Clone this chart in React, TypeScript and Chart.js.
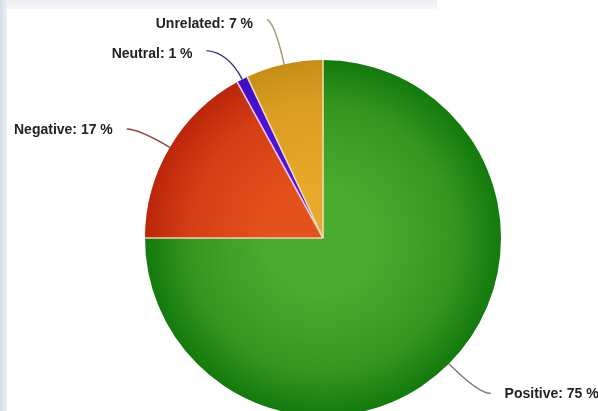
import React, { useEffect, useRef } from "react";
import { Chart, registerables } from "chart.js";

Chart.register(...registerables);

const categories = ["Positive", "Negative", "Neutral", "Unrelated"];
const values = [75, 17, 1, 7];

const innerColors = ["#4aab2f", "#e4521c", "#5214e0", "#e6a92a"];
const midColors = ["#36951f", "#d43e14", "#4a10d4", "#dc9e22"];
const outerColors = ["#137a0d", "#bb260b", "#3f0cc0", "#c68e18"];
const separatorColors = ["#f2dcae", "#f2d2b0", "#f0c8e6", "#f2dcae"];
const lineColors = ["#6f7f6f", "#8a4a3a", "#2f2f86", "#a3936a"];

const W = 598;
const H = 430;

const bgPlugin = {
  id: "bg",
  beforeDraw(chart: any) {
    const c = chart.ctx;
    c.save();
    c.fillStyle = "#ffffff";
    c.fillRect(0, 0, chart.width, chart.height);
    const g = c.createLinearGradient(0, 0, 8, 0);
    g.addColorStop(0, "#d6dde8");
    g.addColorStop(1, "#eef1f6");
    c.fillStyle = g;
    c.fillRect(0, 0, 7, chart.height);
    const g2 = c.createLinearGradient(0, 0, 0, 10);
    g2.addColorStop(0, "#eceef3");
    g2.addColorStop(1, "#f7f8fa");
    c.fillStyle = g2;
    c.fillRect(7, 0, 430, 9);
    c.restore();
  },
};

const separatorPlugin = {
  id: "separators",
  afterDatasetsDraw(chart: any) {
    const c = chart.ctx;
    const meta = chart.getDatasetMeta(0);
    meta.data.forEach((arc: any, i: number) => {
      const p = arc.getProps(["x", "y", "startAngle", "outerRadius"], true);
      c.save();
      c.strokeStyle = separatorColors[i];
      c.lineWidth = 1.6;
      c.beginPath();
      c.moveTo(p.x, p.y);
      c.lineTo(p.x + Math.cos(p.startAngle) * p.outerRadius, p.y + Math.sin(p.startAngle) * p.outerRadius);
      c.stroke();
      c.restore();
    });
  },
};

const leaderPlugin = {
  id: "leaders",
  afterDatasetsDraw(chart: any, _args: any, opts: any) {
    const c = chart.ctx;
    const meta = chart.getDatasetMeta(0);
    meta.data.forEach((arc: any, i: number) => {
      const p = arc.getProps(["x", "y", "startAngle", "endAngle", "outerRadius"], true);
      const mid = (p.startAngle + p.endAngle) / 2;
      const ux = Math.cos(mid);
      const uy = Math.sin(mid);
      const r = p.outerRadius;
      const ext = opts.ext[i];
      const hook = opts.hook[i];
      const side = ux >= 0 ? 1 : -1;
      const x0 = p.x + ux * r;
      const y0 = p.y + uy * r;
      const x1 = p.x + ux * (r + ext);
      const y1 = p.y + uy * (r + ext);
      const x2 = x1 + side * hook;
      const y2 = y1 + opts.rise[i];
      c.save();
      c.strokeStyle = lineColors[i];
      c.lineWidth = 1.4;
      c.beginPath();
      c.moveTo(x0, y0);
      c.quadraticCurveTo(x1, y1, x2, y2);
      c.stroke();
      c.fillStyle = "#222222";
      c.font = "bold 14px 'Liberation Sans', Arial, sans-serif";
      c.textBaseline = "middle";
      c.textAlign = side > 0 ? "left" : "right";
      c.fillText(`${categories[i]}: ${values[i]} %`, x2 + side * opts.gap, y1 + 1);
      c.restore();
    });
  },
};

export default function App() {
  const ref = useRef<HTMLCanvasElement | null>(null);
  useEffect(() => {
    if (!ref.current) return;
    const chart = new Chart(ref.current, {
      type: "pie",
      data: {
        labels: categories,
        datasets: [
          {
            data: values,
            backgroundColor: (ctx: any) => {
              const ch = ctx.chart;
              const area = ch.chartArea;
              const i = ctx.dataIndex;
              if (!area || i === undefined) return innerColors[i ?? 0];
              const cx = (area.left + area.right) / 2;
              const cy = (area.top + area.bottom) / 2;
              const r = Math.min(area.right - area.left, area.bottom - area.top) / 2;
              const g = ch.ctx.createRadialGradient(cx - r * 0.02, cy + r * 0.02, 0, cx, cy, r);
              g.addColorStop(0, innerColors[i]);
              g.addColorStop(0.3, innerColors[i]);
              g.addColorStop(0.75, midColors[i]);
              g.addColorStop(1, outerColors[i]);
              return g;
            },
            borderWidth: 0,
          },
        ],
      },
      options: {
        responsive: false,
        animation: false,
        devicePixelRatio: 1,
        layout: { padding: { left: 145, right: 97, top: 60, bottom: 14 } },
        plugins: {
          legend: { display: false },
          tooltip: { enabled: false },
          leaders: {
            ext: [42, 36, 30, 42],
            hook: [12, 12, 22, 8],
            rise: [0, 0, -2, -4],
            gap: 14,
          },
        } as any,
      },
      plugins: [bgPlugin, separatorPlugin, leaderPlugin],
    });
    return () => chart.destroy();
  }, []);
  return (
    <div style={{ position: "fixed", left: 0, top: 0, width: W, height: H }}>
      <canvas ref={ref} width={W} height={H} style={{ width: W, height: H, display: "block" }} />
    </div>
  );
}
